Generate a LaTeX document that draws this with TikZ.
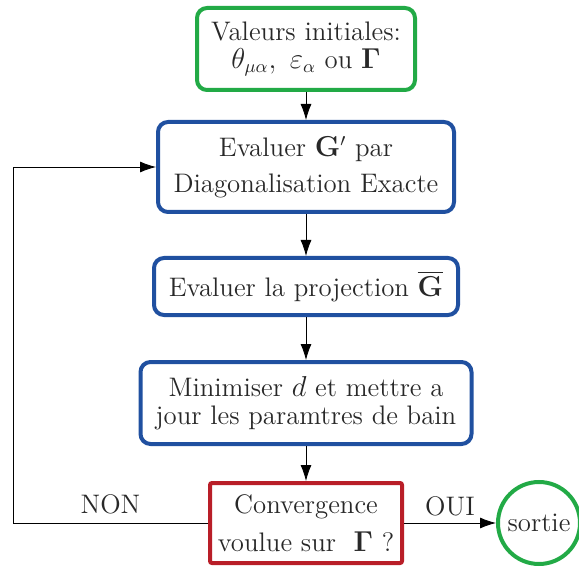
\documentclass[tikz,border=0pt]{standalone}
\usepackage{amsmath,amssymb}
\usetikzlibrary{positioning,arrows.meta}
\definecolor{vertcadre}{RGB}{34,170,70}
\definecolor{bleucadre}{RGB}{32,80,160}
\definecolor{rougecadre}{RGB}{185,30,40}
\definecolor{texte}{RGB}{40,40,40}

\begin{document}
\begin{tikzpicture}[
  x=0.5pt,y=-0.5pt,
  font=\fontsize{13.4}{14}\selectfont,
  every node/.style={text=texte},
  etape/.style={draw=bleucadre,line width=2pt,rounded corners=5pt,align=center,fill=white,inner sep=2pt},
  debut/.style={etape,draw=vertcadre},
  test/.style={etape,draw=rougecadre,rounded corners=1pt},
  fin/.style={circle,draw=vertcadre,line width=2pt,minimum size=41pt,inner sep=0pt},
  >={Latex[length=8pt,width=5.5pt]},
  node distance=20pt
]
\useasboundingbox (0,0) rectangle (579,567);
\node[debut,minimum width=109pt,minimum height=41pt] (init) at (306,49) {Valeurs initiales:\\$\theta_{\mu\alpha},\ \varepsilon_\alpha$ ou $\mathbf{\Gamma}$};
\node[etape,minimum width=148pt,minimum height=45pt,below=14pt of init] (eval) {Evaluer $\mathbf{G}'$ par\\[4pt]Diagonalisation Exacte};
\node[etape,minimum width=152pt,minimum height=28.5pt,below=21pt of eval] (proj) {Evaluer la projection $\overline{\mathbf{G}}$};
\node[etape,minimum width=165.5pt,minimum height=41pt,below=21.5pt of proj] (mini) {Minimiser $d$ et mettre a\\jour les paramtres de bain};
\node[test,minimum width=96pt,minimum height=40pt,below=17.5pt of mini] (conv) {Convergence\\[5pt]voulue sur \ $\mathbf{\Gamma}$ ?};
\node[fin,right=46pt of conv] (sortie) {sortie};
\coordinate (coin) at (13,0 |- conv.west);
\draw[->] (init) -- (eval);
\draw[->] (eval) -- (proj);
\draw[->] (proj) -- (mini);
\draw[->] (mini) -- (conv);
\draw[->] (conv) -- node[above]{OUI} (sortie);
\draw[->] (conv.west) -- node[above=1pt]{NON} (coin) |- (eval.west);
\end{tikzpicture}
\end{document}
